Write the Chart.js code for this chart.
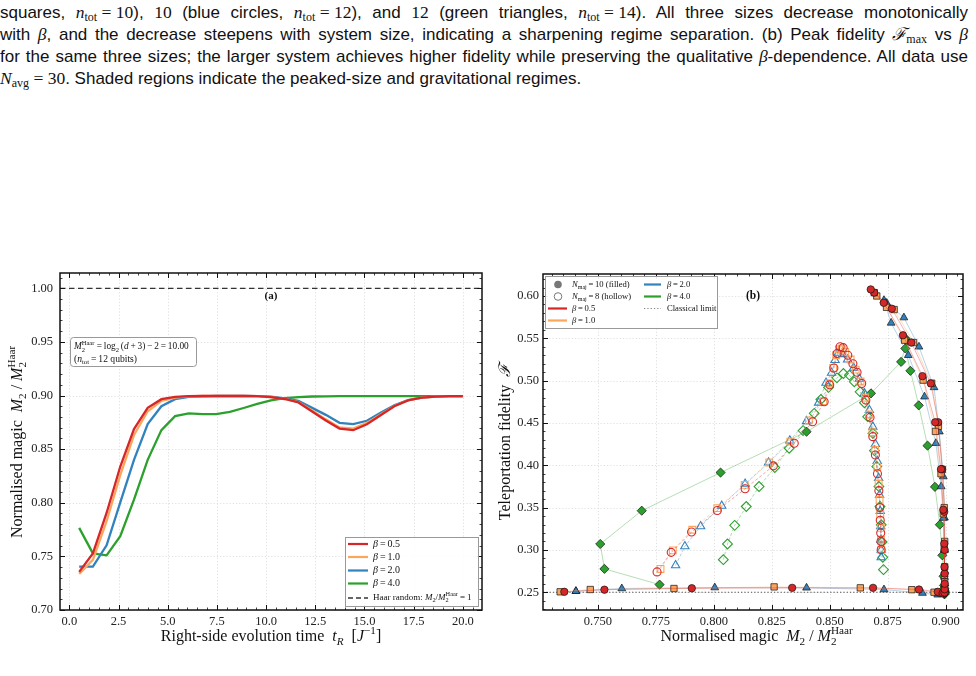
<!DOCTYPE html>
<html><head><meta charset="utf-8">
<script src="https://cdn.jsdelivr.net/npm/chart.js@4.4.1/dist/chart.umd.min.js"></script>
<style>
html,body{margin:0;padding:0;background:#fff;width:976px;height:676px;overflow:hidden;position:relative}
#cap{position:absolute;left:0;top:1px;width:968px;font-family:"Liberation Sans",Arial,sans-serif;font-size:17px;line-height:22px;color:#111}
#cap .l{white-space:nowrap;height:22px}
#cap .l span.in{display:inline-block}
#cap .m{font-family:"Liberation Serif",serif;font-size:17.5px}
#cap i.m{font-style:italic}
#cap sub{font-size:12px;font-family:"Liberation Serif",serif;line-height:0;vertical-align:-3px}
canvas{position:absolute}
#ca{left:0;top:250px}
#cb{left:490px;top:250px}
</style></head><body>
<div id="cap">
<div class="l"><span class="in">squares, <i class="m">n</i><sub>tot</sub><span class="m">&#8197;=&#8197;10</span>), <span class="m">10</span> (blue circles, <i class="m">n</i><sub>tot</sub><span class="m">&#8197;=&#8197;12</span>), and <span class="m">12</span> (green triangles, <i class="m">n</i><sub>tot</sub><span class="m">&#8197;=&#8197;14</span>). All three sizes decrease monotonically</span></div>
<div class="l"><span class="in">with <i class="m">β</i>, and the decrease steepens with system size, indicating a sharpening regime separation. (b) Peak fidelity <i class="m">ℱ</i><sub>max</sub> vs <i class="m">β</i></span></div>
<div class="l"><span class="in">for the same three sizes; the larger system achieves higher fidelity while preserving the qualitative <i class="m">β</i>-dependence. All data use</span></div>
<div class="l last"><span class="in"><i class="m">N</i><sub>avg</sub><span class="m">&#8197;=&#8197;30</span>. Shaded regions indicate the peaked-size and gravitational regimes.</span></div>
</div>
<canvas id="ca" width="490" height="426"></canvas>
<canvas id="cb" width="486" height="426"></canvas>
<script>
// justify caption lines to the text width
document.querySelectorAll('#cap .l').forEach(el=>{
  if (el.classList.contains('last')) return;
  const sp = el.querySelector('.in');
  const w = sp.getBoundingClientRect().width;
  const n = (sp.textContent.match(/ /g)||[]).length;
  let ws = (968 - w)/n;
  if (ws < -1.5) { ws = -1.5; const chars = sp.textContent.length; sp.style.letterSpacing = ((968 - w - n*ws)/chars)+'px'; }
  sp.style.wordSpacing = ws+'px';
});

// ---------------- DATA ----------------
// Panel (a): right-side evolution time
const tR = [0.5,1.196,1.893,2.589,3.286,3.982,4.679,5.375,6.071,6.768,7.464,8.161,8.857,9.554,10.25,10.946,11.643,12.339,13.036,13.732,14.429,15.125,15.821,16.518,17.214,17.911,18.607,19.304,20.0];
// Normalised magic M2/M2^Haar vs t_R, one array per beta
const magicB05 = [0.7355,0.7528,0.7905,0.8338,0.8687,0.8885,0.8966,0.8987,0.8995,0.8996,0.8996,0.8996,0.8996,0.8994,0.8985,0.8968,0.8936,0.8852,0.8768,0.8692,0.8677,0.8733,0.8816,0.8900,0.8955,0.8980,0.8990,0.8994,0.8995];
const magicB10 = [0.7337,0.7467,0.7828,0.8260,0.8632,0.8854,0.8950,0.8980,0.8993,0.8996,0.8996,0.8996,0.8996,0.8994,0.8986,0.8969,0.8940,0.8862,0.8778,0.8703,0.8692,0.8745,0.8823,0.8903,0.8956,0.8980,0.8990,0.8994,0.8995];
const magicB20 = [0.7405,0.7405,0.7603,0.8004,0.8400,0.8734,0.8900,0.8966,0.8987,0.8993,0.8996,0.8996,0.8996,0.8995,0.8990,0.8973,0.8950,0.8885,0.8820,0.8746,0.8734,0.8765,0.8839,0.8909,0.8958,0.8981,0.8990,0.8994,0.8995];
const magicB40 = [0.7766,0.7528,0.7510,0.7689,0.8029,0.8400,0.8678,0.8808,0.8833,0.8826,0.8826,0.8848,0.8884,0.8922,0.8954,0.8975,0.8986,0.8991,0.8993,0.8994,0.8995,0.8995,0.8995,0.8995,0.8995,0.8995,0.8995,0.8995,0.8995];
const haarLevel = 1.0;

// Panel (b): teleportation fidelity, N_maj = 10 (filled), same time points as panel (a)
const fidN10B05 = [0.2505,0.2530,0.2547,0.2552,0.2552,0.2532,0.2505,0.2490,0.2495,0.2535,0.2600,0.2720,0.3000,0.3450,0.3954,0.4508,0.4967,0.5450,0.5850,0.6040,0.6078,0.5920,0.5536,0.5053,0.4508,0.3954,0.3475,0.3074,0.2799];
const fidN10B10 = [0.2505,0.2532,0.2544,0.2563,0.2552,0.2530,0.2500,0.2490,0.2495,0.2540,0.2620,0.2800,0.3100,0.3500,0.3950,0.4460,0.4970,0.5450,0.5840,0.6000,0.6040,0.5866,0.5478,0.5006,0.4400,0.3900,0.3427,0.3020,0.2700];
const fidN10B20 = [0.2512,0.2512,0.2544,0.2555,0.2552,0.2532,0.2490,0.2470,0.2475,0.2520,0.2600,0.2750,0.3000,0.3380,0.3867,0.4397,0.4920,0.5400,0.5745,0.5917,0.5950,0.5682,0.5300,0.4810,0.4260,0.3749,0.3377,0.3000,0.2680];
const fidN10B40 = [0.2590,0.2776,0.3070,0.3463,0.3914,0.4397,0.4850,0.5222,0.5470,0.5500,0.5380,0.5116,0.4708,0.4232,0.3745,0.3298,0.2936,0.2689,0.2580,0.2545,0.2525,0.2510,0.2500,0.2490,0.2480,0.2475,0.2485,0.2500,0.2515];

// Panel (b): N_maj = 8 (hollow)
const magicN8B05 = [0.7755,0.7816,0.7904,0.8015,0.8135,0.8257,0.8347,0.8426,0.8476,0.8500,0.8518,0.8532,0.8545,0.8558,0.8578,0.8600,0.8618,0.8638,0.8656,0.8674,0.8686,0.8697,0.8706,0.8712,0.8716,0.8718,0.8720,0.8721,0.8722];
const fidN8B05   = [0.2740,0.2971,0.3211,0.3466,0.3722,0.3993,0.4260,0.4515,0.4750,0.4950,0.5150,0.5320,0.5400,0.5390,0.5300,0.5200,0.5100,0.4967,0.4770,0.4566,0.4338,0.4122,0.3900,0.3700,0.3500,0.3350,0.3200,0.3100,0.3003];
const magicN8B10 = [0.7770,0.7823,0.7907,0.8015,0.8133,0.8239,0.8330,0.8410,0.8472,0.8498,0.8515,0.8528,0.8540,0.8552,0.8567,0.8590,0.8612,0.8633,0.8652,0.8670,0.8684,0.8696,0.8705,0.8711,0.8715,0.8718,0.8720,0.8721,0.8722];
const fidN8B10   = [0.2775,0.2995,0.3238,0.3494,0.3769,0.4032,0.4280,0.4530,0.4758,0.4967,0.5150,0.5300,0.5370,0.5380,0.5340,0.5250,0.5130,0.4990,0.4800,0.4600,0.4390,0.4180,0.3980,0.3780,0.3590,0.3420,0.3260,0.3120,0.3000];
const magicN8B20 = [0.7835,0.7875,0.7943,0.8034,0.8135,0.8236,0.8328,0.8400,0.8452,0.8484,0.8508,0.8523,0.8537,0.8556,0.8577,0.8603,0.8628,0.8650,0.8671,0.8686,0.8697,0.8705,0.8711,0.8715,0.8718,0.8720,0.8721,0.8722,0.8722];
const fidN8B20   = [0.2818,0.3042,0.3278,0.3521,0.3780,0.4032,0.4291,0.4520,0.4739,0.4974,0.5092,0.5242,0.5328,0.5312,0.5249,0.5151,0.5022,0.4849,0.4652,0.4456,0.4250,0.4050,0.3850,0.3650,0.3460,0.3280,0.3120,0.3000,0.2912];
const magicN8B40 = [0.8041,0.8059,0.8090,0.8140,0.8195,0.8263,0.8325,0.8385,0.8433,0.8462,0.8495,0.8531,0.8559,0.8585,0.8606,0.8631,0.8650,0.8664,0.8686,0.8693,0.8703,0.8712,0.8717,0.8722,0.8726,0.8729,0.8732];
const fidN8B40   = [0.2885,0.3070,0.3290,0.3513,0.3749,0.3973,0.4201,0.4410,0.4614,0.4778,0.4920,0.5033,0.5084,0.5065,0.4986,0.4868,0.4739,0.4574,0.4377,0.4173,0.3985,0.3749,0.3513,0.3297,0.3093,0.2912,0.2767];
const classicalLimit = 0.25;

// Tick labels
const xTicksA = [0.0,2.5,5.0,7.5,10.0,12.5,15.0,17.5,20.0];
const yTicksA = [0.70,0.75,0.80,0.85,0.90,0.95,1.00];
const xTicksB = [0.750,0.775,0.800,0.825,0.850,0.875,0.900];
const yTicksB = [0.25,0.30,0.35,0.40,0.45,0.50,0.55,0.60];
const betaLabels = ['0.5','1.0','2.0','4.0'];

// ---------------- STYLE ----------------
const COL = ['#d62728','#fca55d','#3182bd','#2ca02c'];
const SERIF = '"Liberation Serif","DejaVu Serif",serif';
function rgba(hex,a){const n=parseInt(hex.slice(1),16);return `rgba(${n>>16&255},${n>>8&255},${n&255},${a})`;}

function rich(ctx, parts, x, y, size, align, color){
  const small = size*0.7; const items=[]; let w=0;
  for (const [t,s] of parts){
    if (s==='ss'){
      const [a,b]=t.split('|'); const f=`${small}px ${SERIF}`; ctx.font=f;
      const wa=ctx.measureText(a).width, wb=ctx.measureText(b).width;
      items.push({t:a,font:f,x:w,dy:size*0.3}); items.push({t:b,font:f,x:w,dy:-size*0.38});
      w+=Math.max(wa,wb)+size*0.05; continue;
    }
    const it=(s==='i'||s==='isub'||s==='isup')?'italic ':'';
    const bd=(s==='b')?'bold ':'';
    let font, dy=0;
    if (s==='sub'||s==='isub'){font=`${it}${small}px ${SERIF}`;dy=size*0.3;}
    else if (s==='sup'||s==='isup'){font=`${it}${small}px ${SERIF}`;dy=-size*0.38;}
    else font=`${it}${bd}${size}px ${SERIF}`;
    ctx.font=font; const tw=ctx.measureText(t).width;
    items.push({t,font,x:w,dy}); w+=tw;
  }
  const x0 = align==='center'?x-w/2:(align==='right'?x-w:x);
  ctx.save(); ctx.fillStyle=color||'#111'; ctx.textBaseline='middle'; ctx.textAlign='left';
  for (const it of items){ctx.font=it.font; ctx.fillText(it.t,x0+it.x,y+it.dy);}
  ctx.restore(); return w;
}
function seg(ctx,x1,y1,x2,y2){ctx.beginPath();ctx.moveTo(x1,y1);ctx.lineTo(x2,y2);ctx.stroke();}
function range(a,b,s){const r=[];for(let v=a;v<=b+1e-9;v+=s)r.push(+v.toFixed(6));return r;}

function drawGrid(chart, xs, ys){
  const {ctx, chartArea:a, scales:{x,y}} = chart;
  ctx.save(); ctx.strokeStyle='#d8d8d8'; ctx.lineWidth=0.8; ctx.setLineDash([1.2,2]);
  xs.forEach(v=>{const p=Math.round(x.getPixelForValue(v))+0.5; seg(ctx,p,a.top,p,a.bottom);});
  ys.forEach(v=>{const p=Math.round(y.getPixelForValue(v))+0.5; seg(ctx,a.left,p,a.right,p);});
  ctx.restore();
}
function drawFrameTicks(chart, xMaj, xMin, yMaj, yMin){
  const {ctx, chartArea:a, scales:{x,y}} = chart;
  ctx.save(); ctx.strokeStyle='#111';
  const inX=v=>v>=x.min&&v<=x.max, inY=v=>v>=y.min&&v<=y.max;
  ctx.lineWidth=1;
  xMaj.filter(inX).forEach(v=>{const p=Math.round(x.getPixelForValue(v))+0.5; seg(ctx,p,a.bottom,p,a.bottom-5); seg(ctx,p,a.top,p,a.top+5);});
  yMaj.filter(inY).forEach(v=>{const p=Math.round(y.getPixelForValue(v))+0.5; seg(ctx,a.left,p,a.left+5,p); seg(ctx,a.right,p,a.right-5,p);});
  ctx.lineWidth=0.8;
  xMin.filter(inX).forEach(v=>{const p=Math.round(x.getPixelForValue(v))+0.5; seg(ctx,p,a.bottom,p,a.bottom-2.5); seg(ctx,p,a.top,p,a.top+2.5);});
  yMin.filter(inY).forEach(v=>{const p=Math.round(y.getPixelForValue(v))+0.5; seg(ctx,a.left,p,a.left+2.5,p); seg(ctx,a.right,p,a.right-2.5,p);});
  ctx.lineWidth=1.5; ctx.strokeRect(a.left,a.top,a.right-a.left,a.bottom-a.top);
  ctx.restore();
}
function roundRect(ctx,x,y,w,h,r){ctx.beginPath();ctx.moveTo(x+r,y);ctx.arcTo(x+w,y,x+w,y+h,r);ctx.arcTo(x+w,y+h,x,y+h,r);ctx.arcTo(x,y+h,x,y,r);ctx.arcTo(x,y,x+w,y,r);ctx.closePath();}

function axisCfg(min,max,ticks,fmt,fit,isX,pad){
  return {type:'linear',min,max,grid:{display:false,drawTicks:false},border:{display:false},
    afterBuildTicks:s=>{s.ticks=ticks.map(v=>({value:v}));},
    afterFit:s=>{ if(isX) s.height=fit; else s.width=fit; },
    ticks:{autoSkip:false,maxRotation:0,padding:pad,color:'#222',font:{family:SERIF,size:12.5},callback:v=>Number(v).toFixed(fmt)}};
}

// ---------------- PANEL A ----------------
const magicA = [magicB05,magicB10,magicB20,magicB40];
const plugA = {id:'plugA',
  beforeDatasetsDraw(chart){
    drawGrid(chart,xTicksA,yTicksA);
    const {ctx,chartArea:a,scales:{y}}=chart; const p=y.getPixelForValue(haarLevel);
    ctx.save(); ctx.strokeStyle='#333'; ctx.lineWidth=1.3; ctx.setLineDash([5.5,3.5]); seg(ctx,a.left,p,a.right,p); ctx.restore();
  },
  afterDraw(chart){
    const {ctx,chartArea:a}=chart;
    drawFrameTicks(chart,xTicksA,range(-0.5,21,0.5),yTicksA,range(0.70,1.01,0.01));
    // textbox
    ctx.save(); roundRect(ctx,70.5,87.5,126,29,3); ctx.fillStyle='#fff'; ctx.fill(); ctx.strokeStyle='#999'; ctx.lineWidth=1; ctx.stroke(); ctx.restore();
    rich(ctx,[['M','i'],['2|Haar','ss'],['\u2009=\u2009log','r'],['2','sub'],['\u2009(','r'],['d','i'],['\u2009+\u20093)\u2009−\u20092\u2009=\u200910.00','r']],74,97,9.3,'left');
    rich(ctx,[['(','r'],['n','i'],['tot','sub'],['\u2009=\u200912 qubits)','r']],74,109,9.6,'left');
    // (a)
    rich(ctx,[['(a)','b']],271,46,11,'center');
    // legend
    ctx.save(); ctx.fillStyle='rgba(255,255,255,0.9)'; ctx.fillRect(345.5,287.5,133,69); ctx.strokeStyle='#999'; ctx.lineWidth=1; ctx.strokeRect(345.5,287.5,133,69);
    const rows=[294,307,320.5,333.5];
    rows.forEach((ry,i)=>{ctx.strokeStyle=COL[i]; ctx.lineWidth=2.2; seg(ctx,348,ry,368,ry); rich(ctx,[['β','i'],['\u2009=\u2009'+betaLabels[i],'r']],373,ry,10,'left');});
    ctx.strokeStyle='#333'; ctx.lineWidth=1.3; ctx.setLineDash([5,3]); seg(ctx,348,348,368,348); ctx.setLineDash([]);
    ctx.restore();
    rich(ctx,[['Haar random: ','r'],['M','i'],['2','sub'],['/','r'],['M','i'],['2|Haar','ss'],['\u2009=\u20091','r']],373,348,9,'left');
    // axis titles
    rich(ctx,[['Right-side evolution time  ','r'],['t','i'],['R','isub'],['  [','r'],['J','i'],['−1','sup'],[']','r']],(a.left+a.right)/2,387,16,'center');
    ctx.save(); ctx.translate(18,(a.top+a.bottom)/2); ctx.rotate(-Math.PI/2);
    rich(ctx,[['Normalised magic  ','r'],['M','i'],['2','sub'],[' / ','r'],['M','i'],['2|Haar','ss']],0,0,16,'center');
    ctx.restore();
  }};
new Chart(document.getElementById('ca'),{
  type:'scatter',
  data:{datasets:magicA.map((arr,i)=>({label:'β='+betaLabels[i],data:arr.map((m,j)=>({x:tR[j],y:m})),showLine:true,borderColor:COL[i],borderWidth:2.3,pointRadius:0,fill:false,tension:0}))},
  options:{responsive:false,animation:false,devicePixelRatio:1,
    layout:{padding:{left:0,top:23,right:8,bottom:26}},
    plugins:{legend:{display:false},tooltip:{enabled:false}},
    scales:{x:axisCfg(-0.475,20.975,xTicksA,1,40,true,4),y:axisCfg(0.70,1.0143,yTicksA,2,60,false,7)}},
  plugins:[plugA]});

// ---------------- PANEL B ----------------
const filledX=[magicB05,magicB10,magicB20,magicB40];
const filledY=[fidN10B05,fidN10B10,fidN10B20,fidN10B40];
const hollowX=[magicN8B05,magicN8B10,magicN8B20,magicN8B40];
const hollowY=[fidN8B05,fidN8B10,fidN8B20,fidN8B40];
const STY=['circle','rect','triangle','rectRot'];
const RAD=[3.7,4.5,4.5,4.6];
const dsB=[];
hollowX.forEach((xs,i)=>dsB.push({data:xs.map((m,j)=>({x:m,y:hollowY[i][j]})),showLine:true,borderColor:rgba(COL[i],0.45),borderWidth:0.9,borderDash:[3,2],
  pointStyle:STY[i],pointRadius:RAD[i]+0.3,pointBackgroundColor:'rgba(255,255,255,0)',pointBorderColor:COL[i],pointBorderWidth:1.1}));
filledX.forEach((xs,i)=>dsB.push({data:xs.map((m,j)=>({x:m,y:filledY[i][j]})),showLine:true,borderColor:rgba(COL[i],0.35),borderWidth:1,
  pointStyle:STY[i],pointRadius:RAD[i],pointBackgroundColor:COL[i],pointBorderColor:'#111',pointBorderWidth:0.7}));
const plugB={id:'plugB',
  beforeDatasetsDraw(chart){
    drawGrid(chart,xTicksB,yTicksB);
    const {ctx,chartArea:a,scales:{y}}=chart; const p=y.getPixelForValue(classicalLimit);
    ctx.save(); ctx.strokeStyle='#555'; ctx.lineWidth=1.1; ctx.setLineDash([1.3,2]); seg(ctx,a.left,p,a.right,p); ctx.restore();
  },
  afterDraw(chart){
    const {ctx,chartArea:a}=chart;
    drawFrameTicks(chart,xTicksB,range(0.725,0.91,0.005),yTicksB,range(0.23,0.63,0.01));
    rich(ctx,[['(b)','b']],263,46,11.5,'center');
    // legend
    ctx.save(); ctx.fillStyle='rgba(255,255,255,0.92)'; ctx.fillRect(55.5,26.5,172,52); ctx.strokeStyle='#999'; ctx.lineWidth=1; ctx.strokeRect(55.5,26.5,172,52);
    ctx.fillStyle='#777'; ctx.beginPath(); ctx.arc(68,34.5,3.8,0,Math.PI*2); ctx.fill();
    ctx.strokeStyle='#777'; ctx.lineWidth=1; ctx.beginPath(); ctx.arc(68,46.5,3.8,0,Math.PI*2); ctx.stroke();
    ctx.lineWidth=2.2; ctx.strokeStyle=COL[0]; seg(ctx,58,58.5,77,58.5); ctx.strokeStyle=COL[1]; seg(ctx,58,70.5,77,70.5);
    ctx.strokeStyle=COL[2]; seg(ctx,154,34.5,171,34.5); ctx.strokeStyle=COL[3]; seg(ctx,154,46.5,171,46.5);
    ctx.strokeStyle='#888'; ctx.lineWidth=1.1; ctx.setLineDash([1.3,2]); seg(ctx,154,58.5,171,58.5); ctx.setLineDash([]);
    ctx.restore();
    const fs=8.6;
    rich(ctx,[['N','i'],['maj','sub'],['\u2009=\u200910 (filled)','r']],82,34.5,fs,'left');
    rich(ctx,[['N','i'],['maj','sub'],['\u2009=\u20098 (hollow)','r']],82,46.5,fs,'left');
    rich(ctx,[['β','i'],['\u2009=\u2009'+betaLabels[0],'r']],82,58.5,fs,'left');
    rich(ctx,[['β','i'],['\u2009=\u2009'+betaLabels[1],'r']],82,70.5,fs,'left');
    rich(ctx,[['β','i'],['\u2009=\u2009'+betaLabels[2],'r']],177,34.5,fs,'left');
    rich(ctx,[['β','i'],['\u2009=\u2009'+betaLabels[3],'r']],177,46.5,fs,'left');
    rich(ctx,[['Classical limit','r']],177,58.5,fs,'left');
    // axis titles
    rich(ctx,[['Normalised magic  ','r'],['M','i'],['2','sub'],[' / ','r'],['M','i'],['2|Haar','ss']],(a.left+a.right)/2+4,387,16,'center');
    ctx.save(); ctx.translate(16,(a.top+a.bottom)/2); ctx.rotate(-Math.PI/2);
    rich(ctx,[['Teleportation fidelity  ','r'],['ℱ','i']],0,0,16,'center');
    ctx.restore();
  }};
new Chart(document.getElementById('cb'),{
  type:'scatter',
  data:{datasets:dsB},
  options:{responsive:false,animation:false,devicePixelRatio:1,
    layout:{padding:{left:0,top:24,right:13,bottom:26}},
    plugins:{legend:{display:false},tooltip:{enabled:false}},
    scales:{x:axisCfg(0.7263,0.9075,xTicksB,3,40,true,4),y:axisCfg(0.229,0.626,yTicksB,2,53,false,4)}},
  plugins:[plugB]});
</script>
</body></html>
